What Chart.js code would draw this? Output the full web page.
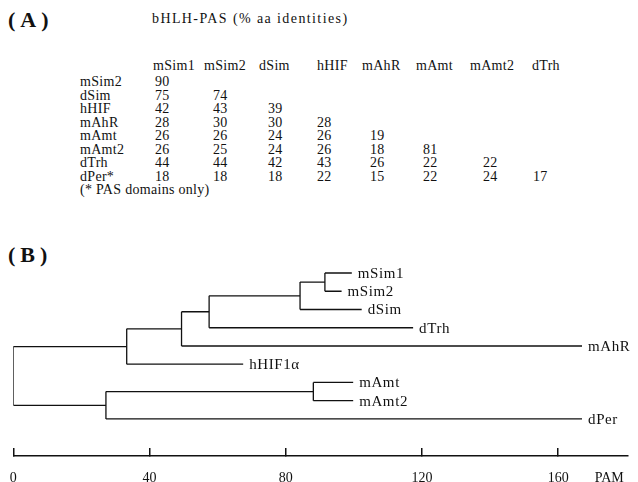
<!DOCTYPE html>
<html>
<head>
<meta charset="utf-8">
<script src="https://cdn.jsdelivr.net/npm/chart.js@4.4.1/dist/chart.umd.min.js"></script>
<style>
  html, body { margin: 0; padding: 0; background: #fff; }
  #page { position: relative; width: 638px; height: 482px; overflow: hidden;
          font-family: 'Liberation Serif', 'DejaVu Serif', serif; color: #111; }
  .t { position: absolute; white-space: nowrap; font-size: 14px; line-height: 14px; letter-spacing: 0.3px; }
  .panel { position: absolute; font-weight: bold; font-size: 22px; line-height: 22px; letter-spacing: 5px; }
  #tree { position: absolute; left: 0; top: 0; }
</style>
</head>
<body>
<div id="page">
  <div class="panel" style="left:8px;top:9px">(A)</div>
  <div class="t" style="left:152px;top:12px;letter-spacing:1.4px">bHLH-PAS (% aa identities)</div>
  <div id="table"></div>
  <div class="panel" style="left:8px;top:244px">(B)</div>
  <canvas id="tree" width="638" height="482"></canvas>
</div>
<script>
// (A) pairwise identities, lower triangle
const colNames = ['mSim1', 'mSim2', 'dSim', 'hHIF', 'mAhR', 'mAmt', 'mAmt2', 'dTrh']
const rowNames = ['mSim2', 'dSim', 'hHIF', 'mAhR', 'mAmt', 'mAmt2', 'dTrh', 'dPer*']
const identities = [
  [90],
  [75, 74],
  [42, 43, 39],
  [28, 30, 30, 28],
  [26, 26, 24, 26, 19],
  [26, 25, 24, 26, 18, 81],
  [44, 44, 42, 43, 26, 22, 22],
  [18, 18, 18, 22, 15, 22, 24, 17],
]
const tableNote = '(* PAS domains only)'

// (B) tree, branch tips / nodes in PAM
const leafNames = ['mSim1', 'mSim2', 'dSim', 'dTrh', 'mAhR', 'hHIF1α', 'mAmt', 'mAmt2', 'dPer']
const leafPam = [99.4, 96.4, 102.3, 117.4, 167, 67.5, 99.8, 99.8, 167]
const nodeNames = ['n1', 'n2', 'n3', 'n4', 'n5', 'n6', 'n7', 'root']
const nodePam = [91.5, 84.2, 57.5, 49.4, 33.3, 88.1, 27.2, 0]
const nodeKids = [
  ['mSim1', 'mSim2'], ['n1', 'dSim'], ['n2', 'dTrh'], ['n3', 'mAhR'],
  ['n4', 'hHIF1α'], ['mAmt', 'mAmt2'], ['n6', 'dPer'], ['n5', 'n7'],
]
const axisTicks = [0, 40, 80, 120, 160]
const axisUnit = 'PAM'

// table layout
const headX = [153, 204, 259, 317, 362, 416, 470, 532]
const cellX = [155, 213, 268, 317, 370, 423, 483, 533]
const rowLabelX = 80
const headY = 66
const rowY0 = 82
const rowStep = 13.5

function addText (parent, txt, x, y) {
  const d = document.createElement('div')
  d.className = 't'
  d.textContent = txt
  d.style.left = x + 'px'
  d.style.top = (y - 7) + 'px'
  parent.appendChild(d)
}

const table = document.getElementById('table')
colNames.forEach((c, i) => addText(table, c, headX[i], headY))
rowNames.forEach((r, i) => {
  const y = rowY0 + i * rowStep
  addText(table, r, rowLabelX, y)
  identities[i].forEach((v, j) => addText(table, String(v), cellX[j], y))
})
addText(table, tableNote, rowLabelX, rowY0 + rowNames.length * rowStep)

// tree geometry from the arrays above
const pos = {}
leafNames.forEach((n, i) => { pos[n] = { x: leafPam[i], y: i } })
nodeNames.forEach((n, i) => {
  const ys = nodeKids[i].map(k => pos[k].y)
  pos[n] = { x: nodePam[i], y: (ys[0] + ys[1]) / 2 }
})

const segments = []
nodeNames.forEach((n, i) => {
  const p = pos[n]
  const [a, b] = nodeKids[i].map(k => pos[k])
  segments.push([{ x: p.x, y: a.y }, { x: p.x, y: b.y }])
  ;[a, b].forEach(k => segments.push([{ x: p.x, y: k.y }, { x: k.x, y: k.y }]))
})

const unitPos = 175

const leafLabels = {
  id: 'leafLabels',
  afterDatasetsDraw (chart) {
    const { ctx, scales: { x, y } } = chart
    ctx.save()
    ctx.font = '15px "Liberation Serif"'
    ctx.letterSpacing = '0.6px'
    ctx.fillStyle = '#111'
    ctx.textBaseline = 'middle'
    leafNames.forEach((name, i) => {
      ctx.fillText(name, x.getPixelForValue(leafPam[i]) + 6, y.getPixelForValue(i) + 1)
    })
    ctx.restore()
  },
}

Chart.defaults.font.family = '"Liberation Serif", serif'
Chart.defaults.color = '#111'

new Chart(document.getElementById('tree'), {
  type: 'scatter',
  data: {
    datasets: segments.map(s => ({
      data: s,
      showLine: true,
      borderColor: '#111',
      borderWidth: 1.3,
      pointRadius: 0,
      pointHoverRadius: 0,
    })),
  },
  options: {
    responsive: false,
    animation: false,
    events: [],
    layout: { padding: { left: 13.3, right: 10, top: 254.75, bottom: 0 } },
    plugins: { legend: { display: false }, tooltip: { enabled: false } },
    scales: {
      x: {
        type: 'linear',
        position: 'bottom',
        min: 0,
        max: 180.5,
        afterBuildTicks (axis) {
          axis.ticks = [...axisTicks, unitPos].map(v => ({ value: v }))
        },
        afterFit (axis) {
          axis.height = 26
          axis.paddingLeft = 0
          axis.paddingRight = 0
        },
        border: { display: true, color: '#111', width: 1.5 },
        grid: {
          drawOnChartArea: false,
          drawTicks: true,
          tickLength: -8,
          lineWidth: 1.5,
          color: ctx => (ctx.tick && ctx.tick.value === unitPos) ? 'rgba(0,0,0,0)' : '#111',
        },
        ticks: {
          autoSkip: false,
          maxRotation: 0,
          padding: 22,
          color: '#111',
          font: { size: 14 },
          callback: v => v === unitPos ? axisUnit : String(v),
        },
      },
      y: {
        type: 'linear',
        display: false,
        reverse: true,
        min: -1,
        max: 10.03,
      },
    },
  },
  plugins: [leafLabels],
})
</script>
</body>
</html>
